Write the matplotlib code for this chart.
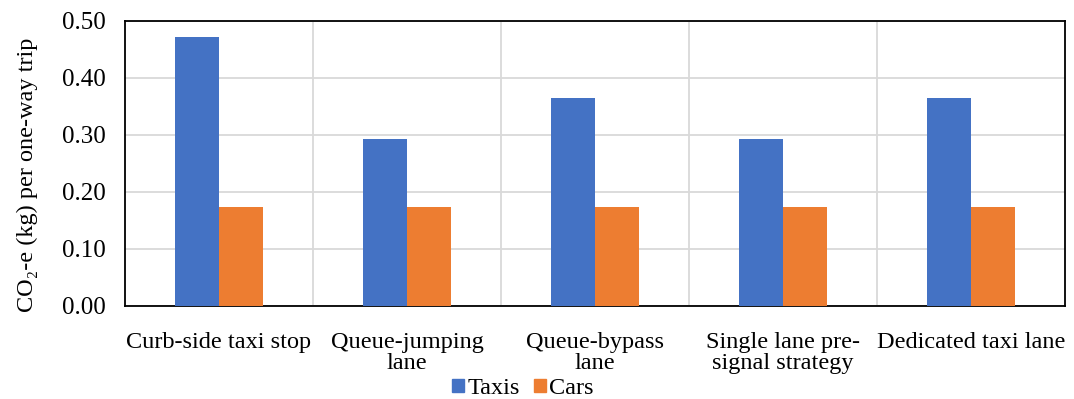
import numpy as np
import matplotlib.pyplot as plt
from matplotlib.patches import Patch

plt.rcParams['font.family'] = ['Liberation Serif', 'DejaVu Serif']

categories = ['Curb-side taxi stop', 'Queue-jumping\nlane', 'Queue-bypass\nlane',
              'Single lane pre-\nsignal strategy', 'Dedicated taxi lane']
taxis = [0.472, 0.293, 0.365, 0.293, 0.365]
cars = [0.173, 0.173, 0.173, 0.173, 0.173]
yticks = [0.0, 0.1, 0.2, 0.3, 0.4, 0.5]

fig = plt.figure(figsize=(10.74, 3.99), dpi=100)
ax = fig.add_axes([0.1164, 0.2331, 0.8752, 0.7143])

x = np.arange(len(categories))
w = 0.235
ax.bar(x - w/2, taxis, w, color='#4472C4', zorder=3)
ax.bar(x + w/2, cars, w, color='#ED7D31', zorder=3)

ax.set_xlim(-0.5, len(categories) - 0.5)
ax.set_ylim(0, 0.5)
ax.set_yticks(yticks)
ax.set_yticklabels(['%.2f' % v for v in yticks], fontsize=18)
ax.set_xticks(x)
ax.set_xticklabels(categories, fontsize=17.5, linespacing=1.0)
ax.tick_params(axis='x', length=0, pad=19)
ax.tick_params(axis='y', length=0, pad=14)

# grid: horizontal at ticks, vertical between categories
ax.set_xticks(np.arange(len(categories) - 1) + 0.5, minor=True)
ax.grid(axis='y', color='#D9D9D9', lw=1.3, zorder=0)
ax.grid(axis='x', which='minor', color='#D9D9D9', lw=1.3, zorder=0)
ax.tick_params(which='minor', length=0)

for s in ax.spines.values():
    s.set_color('black')
    s.set_linewidth(1.3)

ax.set_ylabel('CO\u2082-e (kg) per one-way trip', fontsize=17.5)
ax.yaxis.set_label_coords(-0.093, 0.46)

handles = [Patch(color='#4472C4', label='Taxis'), Patch(color='#ED7D31', label='Cars')]
fig.legend(handles=handles, loc='lower center', bbox_to_anchor=(0.487, -0.055), ncol=2,
           frameon=False, fontsize=17.5, handlelength=0.47, handleheight=0.47,
           handletextpad=0.15, columnspacing=0.6)

fig.savefig('out.png', dpi=100)
